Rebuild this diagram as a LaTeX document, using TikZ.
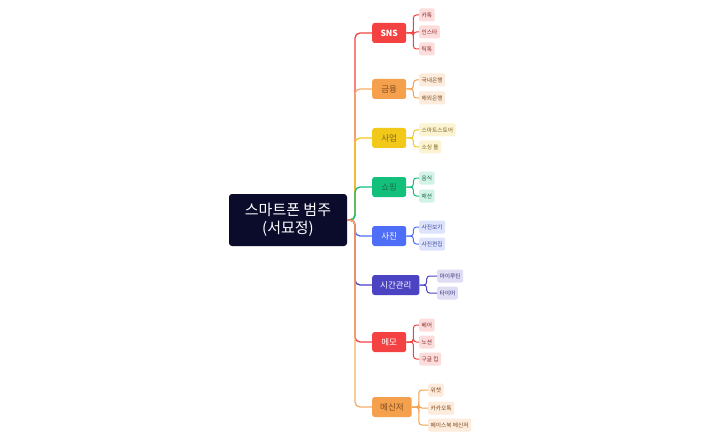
\documentclass[tikz,border=0pt]{standalone}
\usepackage{fontspec}
\setmainfont{Noto Sans CJK KR}
\begin{document}
\begin{tikzpicture}[x=1pt,y=-1pt,
  root/.style={fill=rootc,rounded corners=3pt,minimum width=118pt,minimum height=52pt,text=white,font=\fontsize{15}{18.5}\selectfont,align=center},
  mainbox/.style={rounded corners=2.5pt,minimum width=34pt,minimum height=20pt,inner xsep=8pt,font=\fontsize{8.5}{10}\selectfont,anchor=west},
  leaf/.style={rounded corners=2pt,minimum height=13pt,inner xsep=2.5pt,inner ysep=0pt,font=\fontsize{5.7}{6}\selectfont,anchor=west},
  conn/.style={line width=1.3pt,rounded corners=5pt},
  sconn/.style={line width=1pt,rounded corners=3pt}]
\definecolor{rootc}{HTML}{0B0B2C}
\definecolor{redm}{HTML}{F44141}
\definecolor{redl}{HTML}{FDDCDC}
\definecolor{redt}{HTML}{8A2A2A}
\definecolor{orgm}{HTML}{F5A04C}
\definecolor{orgl}{HTML}{FDEBDB}
\definecolor{orgt}{HTML}{7A4A20}
\definecolor{yelm}{HTML}{F2C91A}
\definecolor{yell}{HTML}{FCF3D2}
\definecolor{yelt}{HTML}{7A6420}
\definecolor{grnm}{HTML}{12BF7B}
\definecolor{grnl}{HTML}{D3F3E6}
\definecolor{grnt}{HTML}{1F6A4A}
\definecolor{blum}{HTML}{4F6EF7}
\definecolor{blul}{HTML}{DEE3FD}
\definecolor{blut}{HTML}{3A4A9A}
\definecolor{indm}{HTML}{4B43C1}
\definecolor{indl}{HTML}{DFDDF4}
\definecolor{indt}{HTML}{3A3580}
\useasboundingbox[fill=white] (0,0) rectangle (712,441);

\node[root] (root) at (288,220) {스마트폰 범주\\(서묘정)};
\coordinate (j) at (355,220);

\node[mainbox,fill=redm,text=white,font=\fontsize{8.5}{10}\selectfont\bfseries] (sns) at (372,33) {SNS};
\node[mainbox,fill=orgm,text=orgt] (fin) at (372,89) {금융};
\node[mainbox,fill=yelm,text=yelt] (biz) at (372,138) {사업};
\node[mainbox,fill=grnm,text=grnt] (shop) at (372,187) {쇼핑};
\node[mainbox,fill=blum,text=white] (photo) at (372,236) {사진};
\node[mainbox,fill=indm,text=white] (time) at (372,285) {시간관리};
\node[mainbox,fill=redm,text=white] (memo) at (372,342) {메모};
\node[mainbox,fill=orgm,text=orgt] (msg) at (372,407) {메신저};

\draw[conn,redm] (root.east) -- (j) |- (sns.west);
\draw[conn,orgm!85] (root.east) -- (j) |- (fin.west);
\draw[conn,yelm] (root.east) -- (j) |- (biz.west);
\draw[conn,grnm] (root.east) -- (j) |- (shop.west);
\draw[conn,blum] (root.east) -- (j) |- (photo.west);
\draw[conn,indm] (root.east) -- (j) |- (time.west);
\draw[conn,redm] (root.east) -- (j) |- (memo.west);
\draw[conn,orgm!85] (root.east) -- (j) |- (msg.west);

% SNS
\node[leaf,fill=redl,text=redt] (s1) at (419,15) {카톡};
\node[leaf,fill=redl,text=redt] (s2) at (419,32) {인스타};
\node[leaf,fill=redl,text=redt] (s3) at (419,49) {틱톡};
\foreach \l in {s1,s2,s3} \draw[sconn,redm] (sns.east) -- ([xshift=7pt]sns.east) |- (\l.west);
% finance
\node[leaf,fill=orgl,text=orgt] (f1) at (419,80) {국내은행};
\node[leaf,fill=orgl,text=orgt] (f2) at (419,98) {해외은행};
\foreach \l in {f1,f2} \draw[sconn,orgm] (fin.east) -- ([xshift=7pt]fin.east) |- (\l.west);
% business
\node[leaf,fill=yell,text=yelt] (b1) at (419,130) {스마트스토어};
\node[leaf,fill=yell,text=yelt] (b2) at (419,147) {소싱 툴};
\foreach \l in {b1,b2} \draw[sconn,yelm] (biz.east) -- ([xshift=7pt]biz.east) |- (\l.west);
% shopping
\node[leaf,fill=grnl,text=grnt] (h1) at (419,178) {음식};
\node[leaf,fill=grnl,text=grnt] (h2) at (419,196) {패션};
\foreach \l in {h1,h2} \draw[sconn,grnm] (shop.east) -- ([xshift=7pt]shop.east) |- (\l.west);
% photo
\node[leaf,fill=blul,text=blut] (p1) at (419,227) {사진보기};
\node[leaf,fill=blul,text=blut] (p2) at (419,244) {사진편집};
\foreach \l in {p1,p2} \draw[sconn,blum] (photo.east) -- ([xshift=7pt]photo.east) |- (\l.west);
% time
\node[leaf,fill=indl,text=indt] (t1) at (437,276) {마이루틴};
\node[leaf,fill=indl,text=indt] (t2) at (437,293) {타이머};
\foreach \l in {t1,t2} \draw[sconn,indm] (time.east) -- ([xshift=7pt]time.east) |- (\l.west);
% memo
\node[leaf,fill=redl,text=redt] (m1) at (419,325) {베어};
\node[leaf,fill=redl,text=redt] (m2) at (419,342) {노션};
\node[leaf,fill=redl,text=redt] (m3) at (419,359) {구글 킵};
\foreach \l in {m1,m2,m3} \draw[sconn,redm] (memo.east) -- ([xshift=7pt]memo.east) |- (\l.west);
% messenger
\node[leaf,fill=orgl,text=orgt] (g1) at (428,390) {위챗};
\node[leaf,fill=orgl,text=orgt] (g2) at (428,408) {카카오톡};
\node[leaf,fill=orgl,text=orgt] (g3) at (428,425) {페이스북 메신저};
\foreach \l in {g1,g2,g3} \draw[sconn,orgm] (msg.east) -- ([xshift=7pt]msg.east) |- (\l.west);
\end{tikzpicture}
\end{document}
